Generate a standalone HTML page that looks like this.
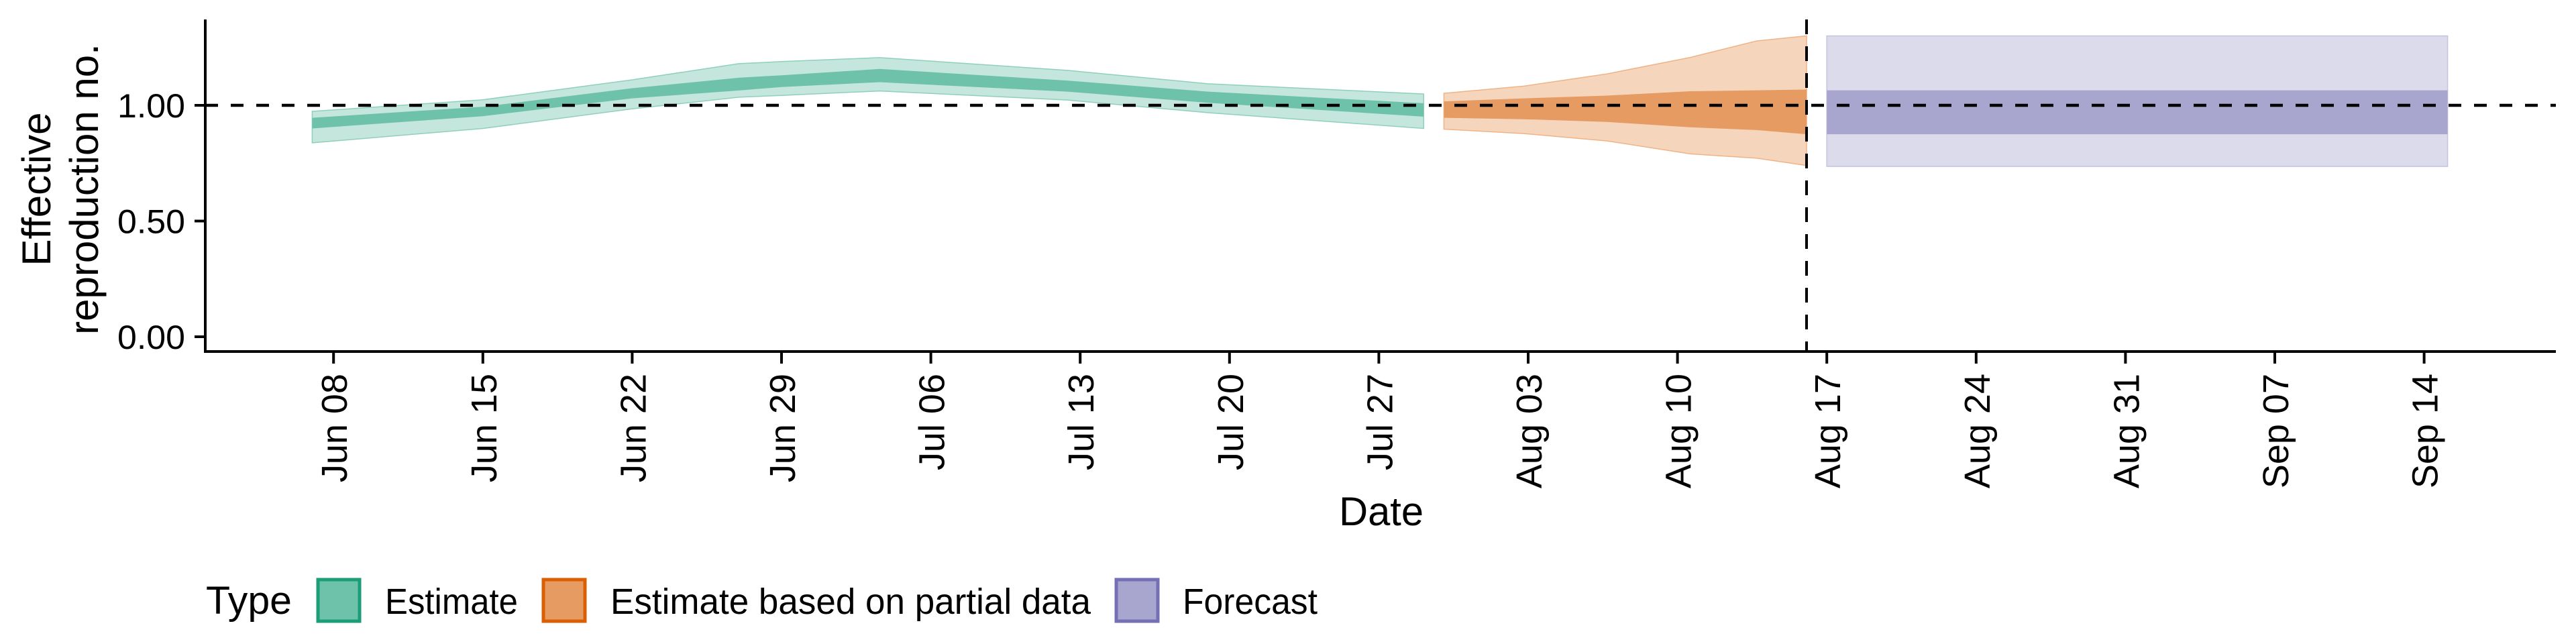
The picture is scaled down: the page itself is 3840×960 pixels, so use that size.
<!DOCTYPE html>
<html><head><meta charset="utf-8"><style>
html,body{margin:0;padding:0;background:#fff}
svg{display:block}
text{font-family:"Liberation Sans",sans-serif;fill:#000}
</style></head><body>
<svg id="chart" width="3840" height="960" viewBox="0 0 3840 960">
<g id="bands"></g>
<g id="lines"></g>
<g id="axes"></g>
<g id="legend">
  <text x="307" y="915" font-size="58" textLength="128" lengthAdjust="spacingAndGlyphs">Type</text>
  <rect x="474" y="864" width="62" height="62" fill="#6fc2aa" stroke="#1b9e77" stroke-width="5"/>
  <text x="574" y="915" font-size="54" textLength="198" lengthAdjust="spacingAndGlyphs">Estimate</text>
  <rect x="810" y="864" width="62" height="62" fill="#e69b62" stroke="#d95f02" stroke-width="5"/>
  <text x="910" y="915" font-size="54" textLength="716" lengthAdjust="spacingAndGlyphs">Estimate based on partial data</text>
  <rect x="1664" y="864" width="62" height="62" fill="#a8a5cf" stroke="#7570b3" stroke-width="5"/>
  <text x="1763" y="915" font-size="54" textLength="201" lengthAdjust="spacingAndGlyphs">Forecast</text>
</g>
</svg>
<script>
// day offsets from Jun 08
const estDays   = [-1, 7, 14, 19, 21, 25.6, 34.4, 41, 51.1];
const estOutHi  = [0.974, 1.024, 1.11, 1.18, 1.189, 1.206, 1.151, 1.093, 1.049];
const estInHi   = [0.946, 0.994, 1.074, 1.119, 1.13, 1.157, 1.107, 1.059, 1.009];
const estInLo   = [0.90, 0.953, 1.03, 1.064, 1.079, 1.10, 1.059, 1.011, 0.951];
const estOutLo  = [0.838, 0.90, 0.985, 1.035, 1.043, 1.062, 1.023, 0.968, 0.90];
const parDays   = [52.05, 55.8, 59.7, 63.6, 66.7, 69.05];
const parOutHi  = [1.052, 1.083, 1.136, 1.207, 1.278, 1.30];
const parInHi   = [1.017, 1.03, 1.042, 1.061, 1.065, 1.068];
const parInLo   = [0.946, 0.94, 0.928, 0.905, 0.893, 0.875];
const parOutLo  = [0.897, 0.878, 0.846, 0.79, 0.772, 0.74];
const fcDays    = [70, 99.1];
const fcOutHi   = [1.30, 1.30];
const fcInHi    = [1.065, 1.065];
const fcInLo    = [0.875, 0.875];
const fcOutLo   = [0.736, 0.736];
const xTickDays   = [0, 7, 14, 21, 28, 35, 42, 49, 56, 63, 70, 77, 84, 91, 98];
const xTickLabels = ["Jun 08","Jun 15","Jun 22","Jun 29","Jul 06","Jul 13","Jul 20","Jul 27","Aug 03","Aug 10","Aug 17","Aug 24","Aug 31","Sep 07","Sep 14"];
const yTicks      = [0, 0.5, 1.0];
const yTickLabels = ["0.00","0.50","1.00"];
const forecastDay = 69.05;

const NS = "http://www.w3.org/2000/svg";
const X = d => 497.2 + d * 31.8;
const Y = v => 502 - v * 345;
function mk(tag, attrs, parent){ const e=document.createElementNS(NS,tag); for(const k in attrs) e.setAttribute(k,attrs[k]); parent.appendChild(e); return e; }
const bands=document.getElementById('bands'), lines=document.getElementById('lines'), axes=document.getElementById('axes');

function ribbon(days, hi, lo, fill, stroke, name){
  let d = days.map((t,i)=>(i?'L':'M')+X(t).toFixed(1)+','+Y(hi[i]).toFixed(1)).join(' ');
  for(let i=days.length-1;i>=0;i--) d += ' L'+X(days[i]).toFixed(1)+','+Y(lo[i]).toFixed(1);
  const p = mk('path',{d:d+' Z',fill:fill,stroke:stroke,'stroke-width':stroke==='none'?0:1.5},bands);
  
  
}
ribbon(estDays, estOutHi, estOutLo, '#c4e6dc', '#8fd0bd', 'estimate-90ci');
ribbon(estDays, estInHi, estInLo, '#6fc2aa', 'none', 'estimate-50ci');
ribbon(parDays, parOutHi, parOutLo, '#f5d6bd', '#f0b386', 'partial-90ci');
ribbon(parDays, parInHi, parInLo, '#e69b62', 'none', 'partial-50ci');
ribbon(fcDays, fcOutHi, fcOutLo, '#dcdbeb', '#c5c3e0', 'forecast-90ci');
ribbon(fcDays, fcInHi, fcInLo, '#a8a5cf', 'none', 'forecast-50ci');

// reference lines
let l = mk('line',{x1:306,x2:3810,y1:Y(1),y2:Y(1),stroke:'#000','stroke-width':4.5,'stroke-dasharray':'19 19'},lines);


l = mk('line',{x1:X(forecastDay),x2:X(forecastDay),y1:29,y2:524,stroke:'#000','stroke-width':4,'stroke-dasharray':'22 18'},lines);



// axes
let a = mk('line',{x1:306,x2:306,y1:29,y2:526,stroke:'#000','stroke-width':4},axes);


a = mk('line',{x1:304,x2:3810,y1:524,y2:524,stroke:'#000','stroke-width':4},axes);


yTicks.forEach((v,i)=>{
  const t = mk('line',{x1:290,x2:306,y1:Y(v),y2:Y(v),stroke:'#000','stroke-width':4},axes);
  
  
  const tx = mk('text',{x:276,y:Y(v)+18,'text-anchor':'end','font-size':50,textLength:101,lengthAdjust:'spacingAndGlyphs'},axes);
  tx.textContent = yTickLabels[i];
  
  
});
xTickDays.forEach((d,i)=>{
  const x = X(d);
  const t = mk('line',{x1:x,x2:x,y1:524,y2:542,stroke:'#000','stroke-width':4},axes);
  
  
  const tx = mk('text',{x:0,y:0,'text-anchor':'end','font-size':54,transform:`translate(${x+20},557) rotate(-90)`},axes);
  tx.textContent = xTickLabels[i];
  
  
});
let tt = mk('text',{x:2059,y:783,'text-anchor':'middle','font-size':60,textLength:126,lengthAdjust:'spacingAndGlyphs'},axes);
tt.textContent = 'Date';


const yt = mk('text',{'text-anchor':'middle','font-size':60,transform:'translate(0,282) rotate(-90)'},axes);


const s1 = mk('tspan',{x:0,y:75},yt); s1.textContent='Effective';
const s2 = mk('tspan',{x:0,y:146},yt); s2.textContent='reproduction no.';
</script>
</body></html>
